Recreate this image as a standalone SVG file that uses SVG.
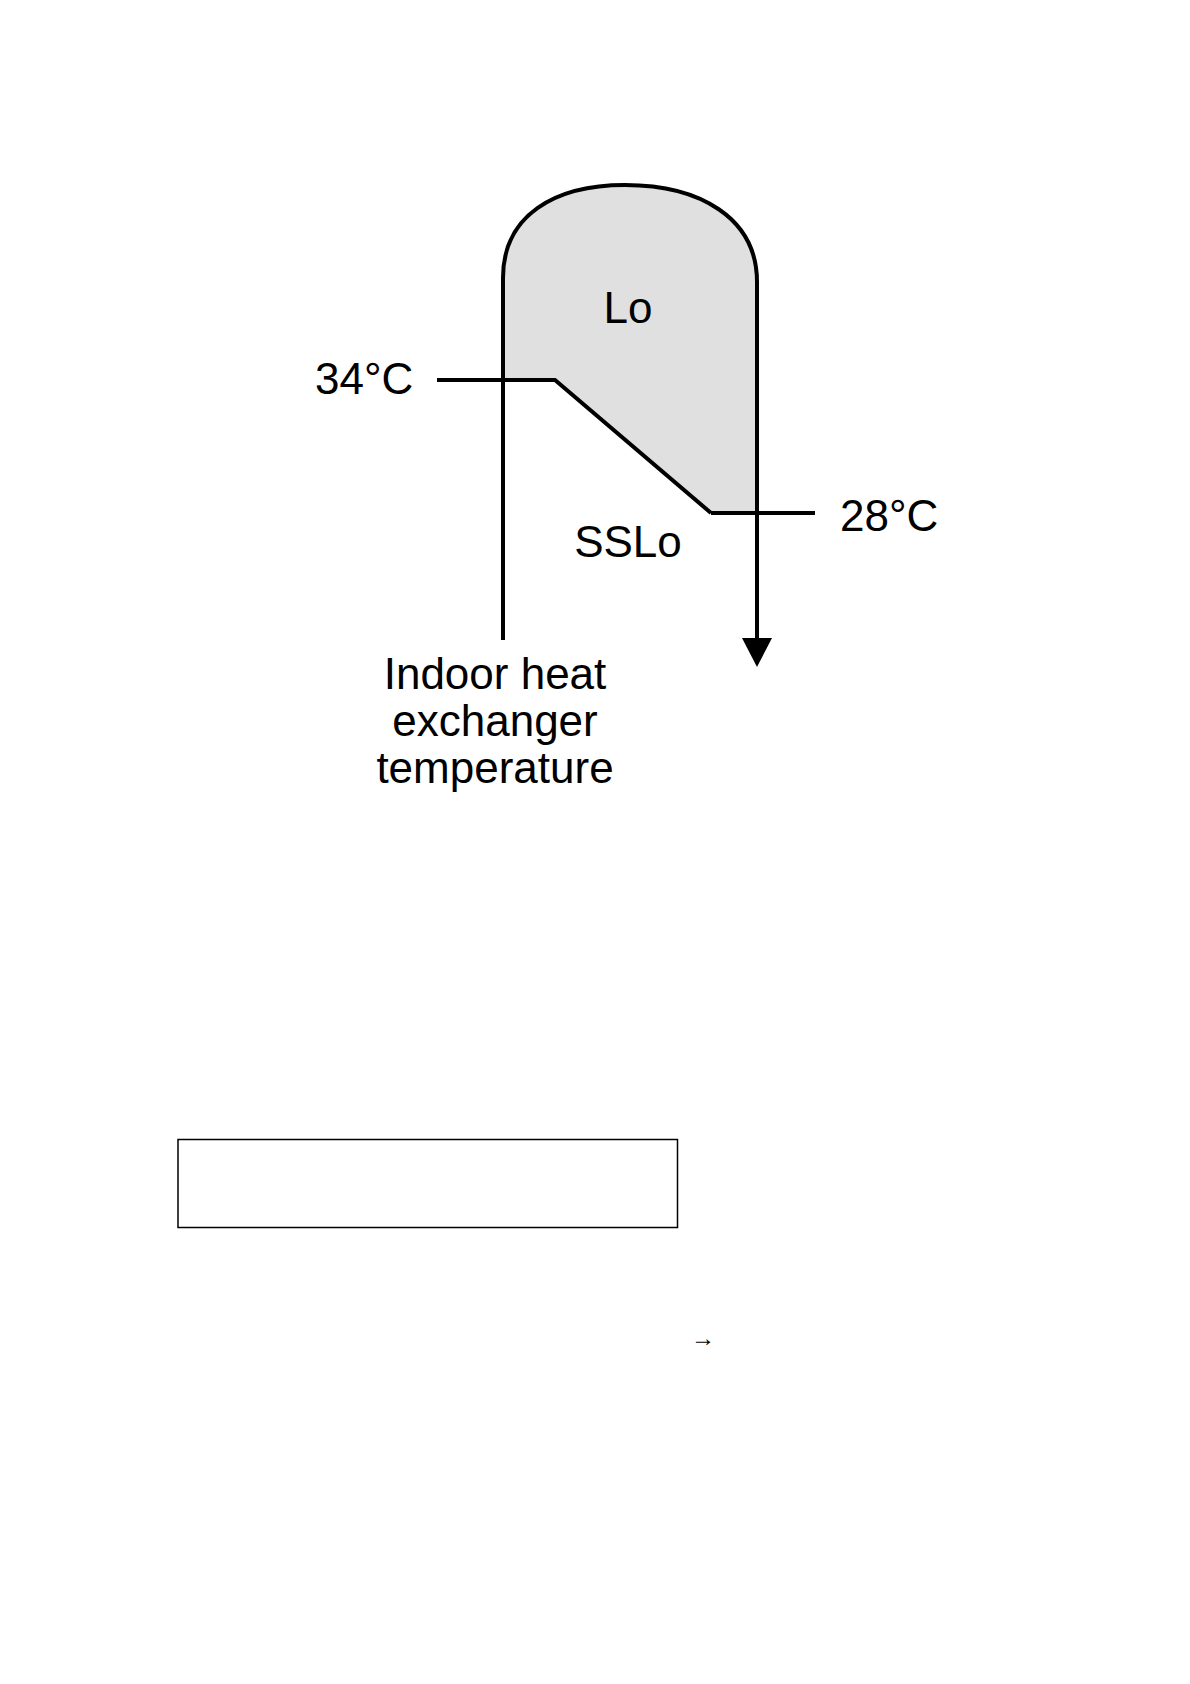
<svg xmlns="http://www.w3.org/2000/svg" width="1190" height="1684" viewBox="0 0 1190 1684">
<style>
.lbl{font-family:"Liberation Sans",Arial,sans-serif;font-size:44px;fill:#000}
.ln{fill:none;stroke:#000;stroke-width:4;stroke-linejoin:miter}
</style>
<rect width="1190" height="1684" fill="#fff"/>
<g id="lo-region">
<path d="M503,380 L503,278 C503,215 555,185 625,185 C700,185 757,218 757,282 L757,513 L711,513 L555,380 Z" fill="#e0e0e0" stroke="none"/>
</g>
<g id="connectors">
<path class="ln" d="M503,640 L503,278 C503,215 555,185 625,185 C700,185 757,218 757,282 L757,642"/>
<polygon points="742,638 772,638 757,667" fill="#000"/>
<path class="ln" d="M437,380 L555,380 L711,513"/>
<path class="ln" d="M711,513 L815,513" stroke-width="4.5"/>
</g>
<g id="label-lo"><text class="lbl" x="628" y="323" text-anchor="middle">Lo</text></g>
<g id="label-34"><text class="lbl" x="315" y="394">34°C</text></g>
<g id="label-28"><text class="lbl" x="840" y="531">28°C</text></g>
<g id="label-sslo"><text class="lbl" x="628" y="557" text-anchor="middle">SSLo</text></g>
<g id="label-indoor">
<text class="lbl" x="495" y="689" text-anchor="middle">Indoor heat</text>
<text class="lbl" x="495" y="736" text-anchor="middle">exchanger</text>
<text class="lbl" x="495" y="783" text-anchor="middle">temperature</text>
</g>
<g id="box"><rect x="178" y="1139.5" width="499.5" height="88" fill="none" stroke="#000" stroke-width="1.5"/></g>
<g id="small-arrow"><text x="703" y="1346" text-anchor="middle" font-family="Liberation Sans, Arial, sans-serif" font-size="24">→</text></g>
</svg>
